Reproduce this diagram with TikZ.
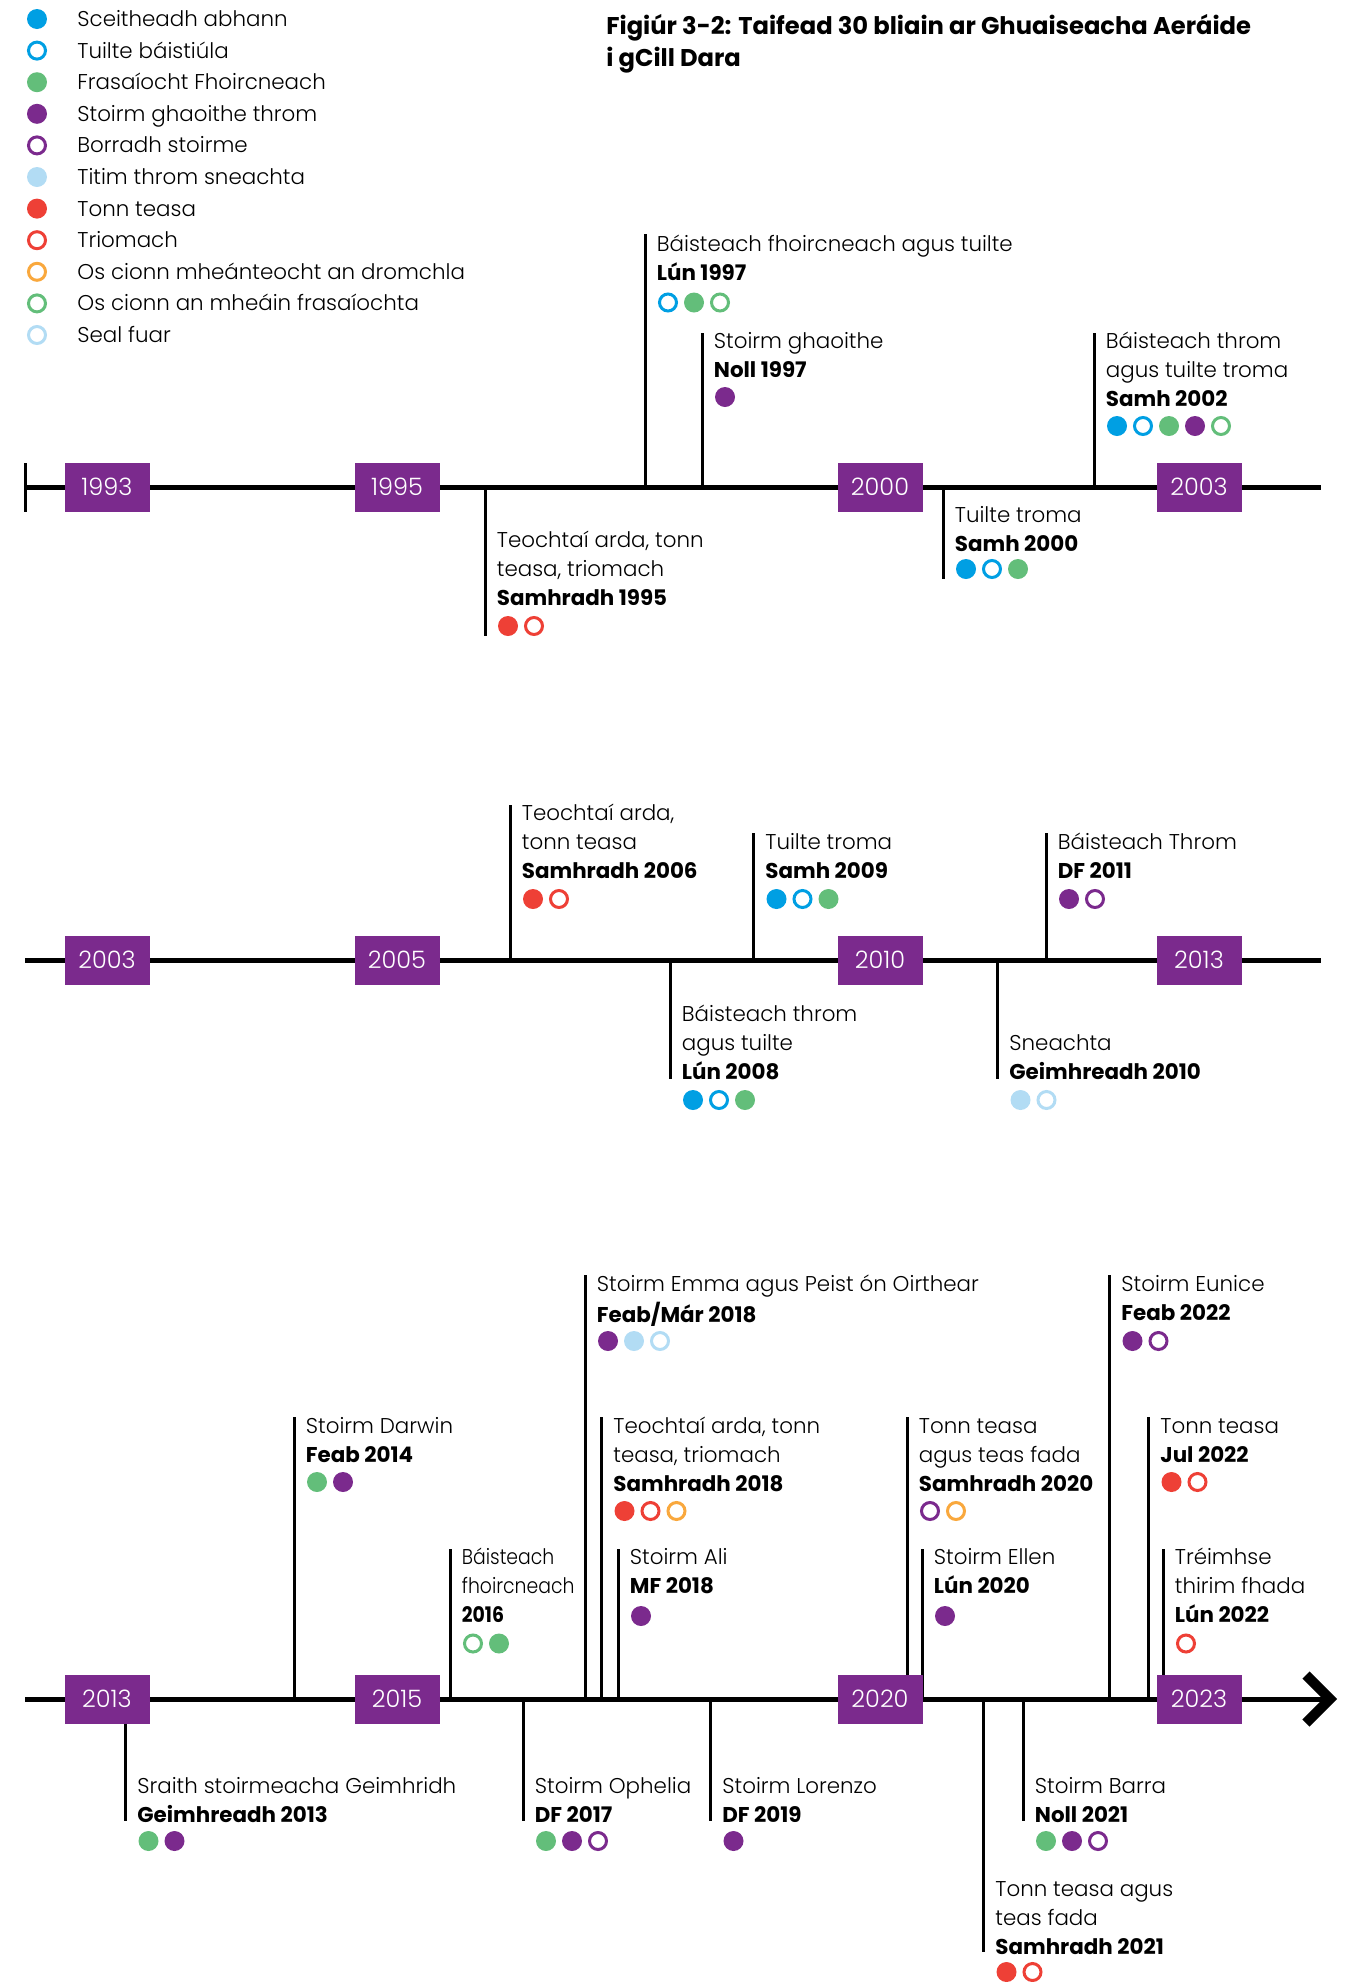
\documentclass[tikz,border=0pt]{standalone}
\usepackage{fontspec}
\IfFontExistsTF{Poppins Light}{%
  \setmainfont{Poppins Light}[BoldFont={Poppins Bold}]
  \newfontfamily\narrowfont{Poppins Light}[BoldFont={Poppins Bold}, FakeStretch=0.88]
}{%
  \setmainfont{Poppins}
  \newfontfamily\narrowfont{Poppins}[FakeStretch=0.88]
}

\definecolor{hzblue}{RGB}{0,159,227}
\definecolor{hzgreen}{RGB}{99,190,122}
\definecolor{hzpurple}{RGB}{123,42,141}
\definecolor{hzsnow}{RGB}{178,220,244}
\definecolor{hzred}{RGB}{238,64,54}
\definecolor{hzorange}{RGB}{249,168,61}

\newcommand{\evfont}{\fontsize{10.7}{14.5}\selectfont}
\newcommand{\yrfont}{\fontsize{12}{14}\selectfont}
\newcommand{\ttlfont}{\bfseries\fontsize{12.1}{15.75}\selectfont}

\tikzset{
  stem/.style={line width=1.5pt},
  axisline/.style={line width=2.5pt},
  evtxt/.style={anchor=north west, inner sep=0pt, align=left, font=\evfont},
  legtxt/.style={anchor=base west, inner sep=0pt, font=\evfont},
  yrbox/.style={fill=hzpurple, text=white, inner sep=0pt, minimum width=42.5pt, minimum height=24.5pt, font=\yrfont},
  dB/.style={fill=hzblue, radius=10},
  dBo/.style={draw=hzblue, line width=1.5pt, radius=8.5},
  dG/.style={fill=hzgreen, radius=10},
  dGo/.style={draw=hzgreen, line width=1.5pt, radius=8.5},
  dP/.style={fill=hzpurple, radius=10},
  dPo/.style={draw=hzpurple, line width=1.5pt, radius=8.5},
  dS/.style={fill=hzsnow, radius=10},
  dSo/.style={draw=hzsnow, line width=1.5pt, radius=8.5},
  dR/.style={fill=hzred, radius=10},
  dRo/.style={draw=hzred, line width=1.5pt, radius=8.5},
  dOo/.style={draw=hzorange, line width=1.5pt, radius=8.5}
}

% name, stem x, axis y, stem end y, text top y, text, dots y, dots
\newcommand{\ev}[8]{%
  \draw[stem] (#2,#3) -- (#2,#4);
  \node[evtxt] (#1) at ({#2+11.5},#5) {\strut #6};
  \foreach \s [count=\i from 0] in {#8} \path[\s] ({#2+23+26*\i},#7) circle;
}

\begin{document}
\begin{tikzpicture}[x=0.5pt, y=-0.5pt]
  \useasboundingbox (0,0) rectangle (1358,1982);
  %%%%% START %%%%%

  \foreach \s/\t [count=\i from 0] in {dB/Sceitheadh abhann, dBo/Tuilte báistiúla,
      dG/Frasaíocht Fhoircneach, dP/Stoirm ghaoithe throm, dPo/Borradh stoirme,
      dS/Titim throm sneachta, dR/Tonn teasa, dRo/Triomach,
      dOo/Os cionn mheánteocht an dromchla, dGo/Os cionn an mheáin frasaíochta, dSo/Seal fuar} {
    \path[\s] (37,{19+31.6*\i}) circle;
    \node[legtxt] (leg\i) at (77,{26.5+31.6*\i}) {\t};
  }

  \node[anchor=north west, inner sep=0pt, align=left, font=\ttlfont] (title) at (606,12.5)
    {\strut Figiúr 3-2: Taifead 30 bliain ar Ghuaiseacha Aeráide\\i gCill Dara};

  % 1993 - 2003
  \draw[axisline] (25,487) -- (1321,487);
  \draw[stem] (25.7,463) -- (25.7,512);
  \ev{lun97}{645}{487}{234}{231.2}{Báisteach fhoircneach agus tuilte\\\textbf{Lún 1997}}{302.5}{dBo,dG,dGo}
  \ev{noll97}{702}{487}{333}{328.2}{Stoirm ghaoithe\\\textbf{Noll 1997}}{397}{dP}
  \ev{samh02}{1094}{487}{333}{328.2}{Báisteach throm\\agus tuilte troma\\\textbf{Samh 2002}}{426}{dB,dBo,dG,dP,dGo}
  \ev{samh95}{485}{487}{636}{527.2}{Teochtaí arda, tonn\\teasa, triomach\\\textbf{Samhradh 1995}}{626}{dR,dRo}
  \ev{samh00}{943}{487}{579}{502.2}{Tuilte troma\\\textbf{Samh 2000}}{569}{dB,dBo,dG}
  \node[yrbox] (r1y1993) at (107,487) {1993};
  \node[yrbox] (r1y1995) at (397,487) {1995};
  \node[yrbox] (r1y2000) at (880,487) {2000};
  \node[yrbox] (r1y2003) at (1199,487) {2003};

  % 2003 - 2013
  \draw[axisline] (25,960) -- (1321,960);
  \ev{samh06}{510}{960}{805}{800.2}{Teochtaí arda,\\tonn teasa\\\textbf{Samhradh 2006}}{899}{dR,dRo}
  \ev{samh09}{753.5}{960}{833}{829.2}{Tuilte troma\\\textbf{Samh 2009}}{899}{dB,dBo,dG}
  \ev{df11}{1046}{960}{833}{829.2}{Báisteach Throm\\\textbf{DF 2011}}{899}{dP,dPo}
  \ev{lun08}{670}{960}{1079}{1001.2}{Báisteach throm\\agus tuilte\\\textbf{Lún 2008}}{1100}{dB,dBo,dG}
  \ev{geim10}{997.5}{960}{1079}{1030.2}{Sneachta\\\textbf{Geimhreadh 2010}}{1100}{dS,dSo}
  \node[yrbox] (r2y2003) at (107,960) {2003};
  \node[yrbox] (r2y2005) at (397,960) {2005};
  \node[yrbox] (r2y2010) at (880,960) {2010};
  \node[yrbox] (r2y2013) at (1199,960) {2013};

  % 2013 - 2023
  \draw[axisline] (25,1699) -- (1328,1699);
  \draw[line width=5pt, miter limit=4] (1306,1675) -- (1330,1699) -- (1306,1723);
  \ev{feab14}{294}{1699}{1416.5}{1413}{Stoirm Darwin\\\textbf{Feab 2014}}{1482}{dG,dP}
  \draw[stem] (450,1699) -- (450,1549);
  \node[evtxt, font=\narrowfont\evfont] (b16) at (461.5,1544.2) {\strut Báisteach\\fhoircneach\\\textbf{2016}};
  \foreach \s [count=\i from 0] in {dGo,dG} \path[\s] ({473+26*\i},1643.5) circle;
  \ev{feab18}{585}{1699}{1275}{1271.2}{Stoirm Emma agus Peist ón Oirthear\\\textbf{Feab/Már 2018}}{1341}{dP,dS,dSo}
  \ev{samh18}{601.5}{1699}{1416.5}{1413}{Teochtaí arda, tonn\\teasa, triomach\\\textbf{Samhradh 2018}}{1511}{dR,dRo,dOo}
  \ev{mf18}{618}{1699}{1549}{1544.2}{Stoirm Ali\\\textbf{MF 2018}}{1616}{dP}
  \ev{samh20}{907}{1699}{1416.5}{1413}{Tonn teasa\\agus teas fada\\\textbf{Samhradh 2020}}{1511}{dPo,dOo}
  \ev{lun20}{922}{1699}{1549}{1544.2}{Stoirm Ellen\\\textbf{Lún 2020}}{1616}{dP}
  \ev{feab22}{1109.5}{1699}{1275}{1271.2}{Stoirm Eunice\\\textbf{Feab 2022}}{1341}{dP,dPo}
  \ev{jul22}{1148.5}{1699}{1416.5}{1413}{Tonn teasa\\\textbf{Jul 2022}}{1482}{dR,dRo}
  \ev{lun22}{1163}{1699}{1549}{1544.2}{Tréimhse\\thirim fhada\\\textbf{Lún 2022}}{1643.5}{dRo}
  \ev{geim13}{125.5}{1699}{1821}{1773.2}{Sraith stoirmeacha Geimhridh\\\textbf{Geimhreadh 2013}}{1841}{dG,dP}
  \ev{df17}{523}{1699}{1821}{1773.2}{Stoirm Ophelia\\\textbf{DF 2017}}{1841}{dG,dP,dPo}
  \ev{df19}{710.5}{1699}{1821}{1773.2}{Stoirm Lorenzo\\\textbf{DF 2019}}{1841}{dP}
  \ev{samh21}{983.5}{1699}{1952}{1876.2}{Tonn teasa agus\\teas fada\\\textbf{Samhradh 2021}}{1972}{dR,dRo}
  \ev{noll21}{1023}{1699}{1821}{1773.2}{Stoirm Barra\\\textbf{Noll 2021}}{1841}{dG,dP,dPo}
  \node[yrbox] (r3y2013) at (107,1699) {2013};
  \node[yrbox] (r3y2015) at (397,1699) {2015};
  \node[yrbox] (r3y2020) at (880,1699) {2020};
  \node[yrbox] (r3y2023) at (1199,1699) {2023};

  %%%%% END %%%%%
\end{tikzpicture}
\end{document}
